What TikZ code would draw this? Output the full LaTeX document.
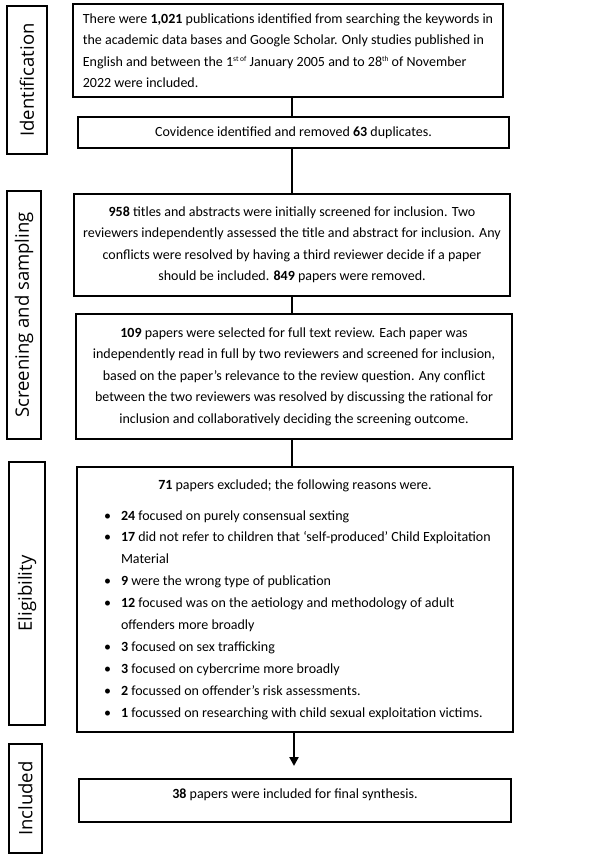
\documentclass[tikz,border=0pt]{standalone}
\usepackage{fontspec}
\setmainfont{Carlito}
\newfontfamily\labelfont{Open Sans}
\usepackage{enumitem}
\usetikzlibrary{arrows.meta}
\newcommand{\supsm}[1]{\raisebox{5pt}{\fontsize{7.5}{8}\selectfont #1}}
\begin{document}
\begin{tikzpicture}[x=1pt,y=-1pt,
  box/.style={draw=black, line width=1.2pt, inner sep=0pt, font=\fontsize{14}{21.5}\selectfont},
  side/.style={draw=black, line width=1.2pt, rotate=90, inner sep=0pt, font=\labelfont\fontsize{18.5}{23}\selectfont},
  link/.style={line width=2.5pt},
]
\useasboundingbox[fill=white] (0,0) rectangle (598,861);

% stage labels
\node[side, minimum width=148pt, minimum height=40pt] (s1) at (27,80) {Identification};
\node[side, minimum width=248pt, minimum height=34pt] (s2) at (24,315) {Screening and sampling};
\node[side, minimum width=263pt, minimum height=36pt] (s3) at (27,593.5) {Eligibility};
\node[side, minimum width=109pt, minimum height=33pt] (s4) at (25.5,798.5) {Included};

% boxes
\node[box, align=flush left, minimum width=430pt, minimum height=93pt] (b1) at (288,50.5)
 {There were \textbf{1,021} publications identified from searching the keywords in\\
  the academic data bases and Google Scholar. Only studies published in\\
  English and between the 1\supsm{st of} January 2005 and to 28\supsm{th} of November\\
  2022 were included.};

\node[box, align=flush center, minimum width=431pt, minimum height=31pt] (b2) at (293.5,132.5)
 {Covidence identified and removed \textbf{63} duplicates.};

\node[box, align=flush center, minimum width=436pt, minimum height=102pt] (b3) at (292,245)
 {\textbf{958} titles and abstracts were initially screened for inclusion. Two\\
  reviewers independently assessed the title and abstract for inclusion. Any\\
  conflicts were resolved by having a third reviewer decide if a paper\\
  should be included. \textbf{849} papers were removed.};

\node[box, align=flush center, minimum width=436pt, minimum height=125pt] (b4) at (294,376.5)
 {\textbf{109} papers were selected for full text review. Each paper was\\
  independently read in full by two reviewers and screened for inclusion,\\
  based on the paper’s relevance to the review question. Any conflict\\
  between the two reviewers was resolved by discussing the rational for\\
  inclusion and collaboratively deciding the screening outcome.};

\node[box, text width=430pt, inner xsep=3pt, align=flush left, minimum width=436pt, minimum height=265pt] (b5) at (295,599.5)
 {{\centering\textbf{71} papers excluded; the following reasons were.\par}
  \vspace{9pt}
  \begin{itemize}[leftmargin=41pt, labelsep=10pt, itemsep=0pt, topsep=0pt, parsep=0pt, partopsep=0pt]
  \raggedright\baselineskip=21.9pt
  \item \textbf{24} focused on purely consensual sexting
  \item \textbf{17} did not refer to children that ‘self-produced’ Child Exploitation\newline Material
  \item \textbf{9} were the wrong type of publication
  \item \textbf{12} focused was on the aetiology and methodology of adult\newline offenders more broadly
  \item \textbf{3} focused on sex trafficking
  \item \textbf{3} focused on cybercrime more broadly
  \item \textbf{2} focussed on offender’s risk assessments.
  \item \textbf{1} focussed on researching with child sexual exploitation victims.
  \end{itemize}};

\node[box, align=flush center, text depth=14pt, minimum width=432pt, minimum height=43pt] (b6) at (295,800.5)
 {\textbf{38} papers were included for final synthesis.};

% connectors
\coordinate (spine) at (292,0);
\coordinate (tip) at (294,766);
\draw[link] (b1.south -| spine) -- (b2.north -| spine);
\draw[link] (b2.south -| spine) -- (b3.north -| spine);
\draw[link] (b3.south -| spine) -- (b4.north -| spine);
\draw[link] (b4.south -| spine) -- (b5.north -| spine);
\draw[link, -{Triangle[length=9pt,width=9pt]}] (b5.south -| tip) -- (tip);
\end{tikzpicture}
\end{document}
